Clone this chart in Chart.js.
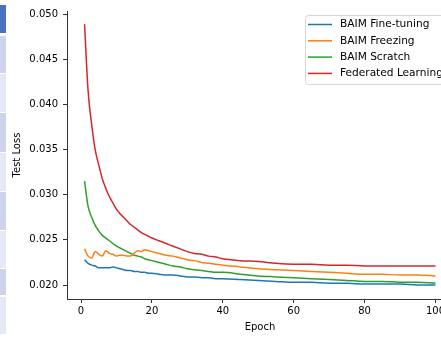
<!DOCTYPE html>
<html>
<head>
<meta charset="utf-8">
<script src="https://cdn.jsdelivr.net/npm/chart.js@4.4.1/dist/chart.umd.min.js"></script>
<style>
  html, body { margin: 0; padding: 0; width: 441px; height: 337px; overflow: hidden; background: #fff; }
  #strip { position: absolute; left: 0; top: 0; width: 6px; height: 337px; z-index: 2; }
  #strip div { position: absolute; left: 0; width: 6px; }
  #wrap { position: absolute; left: 0; top: 0; width: 500px; height: 337px; }
</style>
</head>
<body>
<div id="strip"></div>
<div id="wrap"><canvas id="chart-loss" width="500" height="337"></canvas></div>
<script>
(function() {
  "use strict";

  // エポック (後半は間引き)
  var epochs = [1, 2, 3, 4, 5, 6, 7, 8, 9, 10, 11, 12, 13, 14, 15, 16, 17, 18, 19, 20,
    22, 24, 26, 28, 30, 32, 34, 36, 38, 40,
    45, 50, 55, 60, 65, 70, 75, 80, 85, 90, 95, 100];

  var fineTuning = [0.0228, 0.0224, 0.0222, 0.0221, 0.0219, 0.0219, 0.0219, 0.0219, 0.0220, 0.0219,
    0.0218, 0.0217, 0.0216, 0.0216, 0.0215, 0.0215, 0.0214, 0.0214, 0.0213, 0.0213,
    0.0212, 0.0211, 0.0211, 0.0210, 0.0209, 0.0209, 0.0208, 0.0208, 0.0207, 0.0207,
    0.0206, 0.0205, 0.0204, 0.0203, 0.0203, 0.0202, 0.0202, 0.0201, 0.0201, 0.0201, 0.0200, 0.0200];

  var freezing = [0.0240, 0.0232, 0.0230, 0.0237, 0.0234, 0.0232, 0.0238, 0.0235, 0.0234, 0.0232,
    0.0233, 0.0233, 0.0232, 0.0232, 0.0235, 0.0238, 0.0237, 0.0239, 0.0238, 0.0237,
    0.0235, 0.0233, 0.0232, 0.0230, 0.0228, 0.0227, 0.0225, 0.0224, 0.0223, 0.0222,
    0.0220, 0.0218, 0.0217, 0.0216, 0.0215, 0.0214, 0.0213, 0.0212, 0.0212, 0.0211, 0.0211, 0.0210];

  var scratch = [0.0315, 0.0287, 0.0275, 0.0266, 0.0260, 0.0255, 0.0252, 0.0249, 0.0246, 0.0243,
    0.0241, 0.0239, 0.0237, 0.0235, 0.0233, 0.0232, 0.0231, 0.0229, 0.0228, 0.0227,
    0.0225, 0.0223, 0.0221, 0.0220, 0.0218, 0.0217, 0.0216, 0.0215, 0.0214, 0.0214,
    0.0212, 0.0210, 0.0209, 0.0208, 0.0207, 0.0206, 0.0205, 0.0204, 0.0204, 0.0203, 0.0203, 0.0202];

  var federated = [0.0489, 0.0415, 0.0378, 0.0350, 0.0333, 0.0318, 0.0307, 0.0298, 0.0291, 0.0284,
    0.0279, 0.0275, 0.0271, 0.0267, 0.0264, 0.0261, 0.0258, 0.0256, 0.0254, 0.0252,
    0.0249, 0.0246, 0.0243, 0.0240, 0.0237, 0.0235, 0.0234, 0.0232, 0.0231, 0.0229,
    0.0227, 0.0226, 0.0224, 0.0223, 0.0223, 0.0222, 0.0222, 0.0221, 0.0221, 0.0221, 0.0221, 0.0221];

  var seriesNames = ['BAIM Fine-tuning', 'BAIM Freezing', 'BAIM Scratch', 'Federated Learning'];
  var seriesValues = [fineTuning, freezing, scratch, federated];
  var seriesColors = ['#1f77b4', '#ff7f0e', '#2ca02c', '#d62728'];

  var xTicks = [0, 20, 40, 60, 80, 100];
  var yTicks = [0.020, 0.025, 0.030, 0.035, 0.040, 0.045, 0.050];

  var FONT = '"DejaVu Sans", sans-serif';

  // 左端の切れた表のセル
  var stripCells = [
    [5, 28, '#4a72c0'], [36, 37, '#cdd4ea'], [74, 38, '#e6e9f4'], [113, 39, '#cdd4ea'],
    [153, 38, '#e6e9f4'], [192, 38, '#cdd4ea'], [231, 37, '#e6e9f4'], [269, 26, '#cdd4ea'],
    [297, 37, '#e6e9f4']
  ];
  var strip = document.getElementById('strip');
  stripCells.forEach(function(c) {
    var d = document.createElement('div');
    d.style.top = c[0] + 'px';
    d.style.height = c[1] + 'px';
    d.style.background = c[2];
    strip.appendChild(d);
  });

  function roundRect(ctx, x, y, w, h, r) {
    ctx.beginPath();
    ctx.moveTo(x + r, y);
    ctx.lineTo(x + w - r, y);
    ctx.arcTo(x + w, y, x + w, y + r, r);
    ctx.lineTo(x + w, y + h - r);
    ctx.arcTo(x + w, y + h, x + w - r, y + h, r);
    ctx.lineTo(x + r, y + h);
    ctx.arcTo(x, y + h, x, y + h - r, r);
    ctx.lineTo(x, y + r);
    ctx.arcTo(x, y, x + r, y, r);
    ctx.closePath();
  }

  /** 軸タイトルと凡例 (matplotlib風) */
  var overlay = {
    id: 'overlay',
    afterDraw: function(c) {
      var ctx = c.ctx;
      var area = c.chartArea;
      ctx.save();
      ctx.font = '10px ' + FONT;
      ctx.fillStyle = '#000';
      ctx.textAlign = 'center';
      ctx.textBaseline = 'middle';
      ctx.fillText('Epoch', (area.left + area.right) / 2, 327);
      ctx.save();
      ctx.translate(17, (area.top + area.bottom) / 2);
      ctx.rotate(-Math.PI / 2);
      ctx.fillText('Test Loss', 0, 0);
      ctx.restore();

      var bx = 305.5, by = 15.5;
      roundRect(ctx, bx, by, 150, 69, 3);
      ctx.fillStyle = 'rgba(255,255,255,0.8)';
      ctx.fill();
      ctx.strokeStyle = '#d6d6d6';
      ctx.lineWidth = 1;
      ctx.stroke();

      ctx.textAlign = 'left';
      ctx.font = '10.6px ' + FONT;
      seriesNames.forEach(function(name, i) {
        var y = 24.5 + i * 16.3;
        ctx.strokeStyle = seriesColors[i];
        ctx.lineWidth = 1.5;
        ctx.beginPath();
        ctx.moveTo(308, y);
        ctx.lineTo(332, y);
        ctx.stroke();
        ctx.fillStyle = '#000';
        ctx.fillText(name, 340, y);
      });
      ctx.restore();
    }
  };

  var datasets = seriesNames.map(function(name, i) {
    return {
      label: name,
      data: epochs.map(function(e, j) { return { x: e, y: seriesValues[i][j] }; }),
      borderColor: seriesColors[i],
      backgroundColor: seriesColors[i],
      borderWidth: 1.5,
      pointRadius: 0,
      cubicInterpolationMode: 'monotone'
    };
  });

  new Chart(document.getElementById('chart-loss'), {
    type: 'line',
    data: { datasets: datasets },
    plugins: [overlay],
    options: {
      responsive: false,
      animation: false,
      layout: { padding: { left: 0, top: 11, right: 47, bottom: 0 } },
      plugins: { legend: { display: false }, tooltip: { enabled: false } },
      scales: {
        x: {
          type: 'linear',
          min: -3.95,
          max: 104.95,
          afterBuildTicks: function(s) { s.ticks = xTicks.map(function(v) { return { value: v }; }); },
          afterFit: function(s) { s.height = 38; },
          grid: { drawOnChartArea: false, drawTicks: true, tickLength: 4, color: '#333' },
          border: { display: true, color: '#333', width: 1 },
          ticks: { color: '#000', font: { family: FONT, size: 10 }, padding: 2, maxRotation: 0 }
        },
        y: {
          min: 0.01845,
          max: 0.05035,
          afterBuildTicks: function(s) { s.ticks = yTicks.map(function(v) { return { value: v }; }); },
          afterFit: function(s) { s.width = 67; },
          grid: { drawOnChartArea: false, drawTicks: true, tickLength: 4, color: '#333' },
          border: { display: true, color: '#333', width: 1 },
          ticks: {
            color: '#000', font: { family: FONT, size: 10 }, padding: 5,
            callback: function(v) { return v.toFixed(3); }
          }
        }
      }
    }
  });
})();
</script>
</body>
</html>
